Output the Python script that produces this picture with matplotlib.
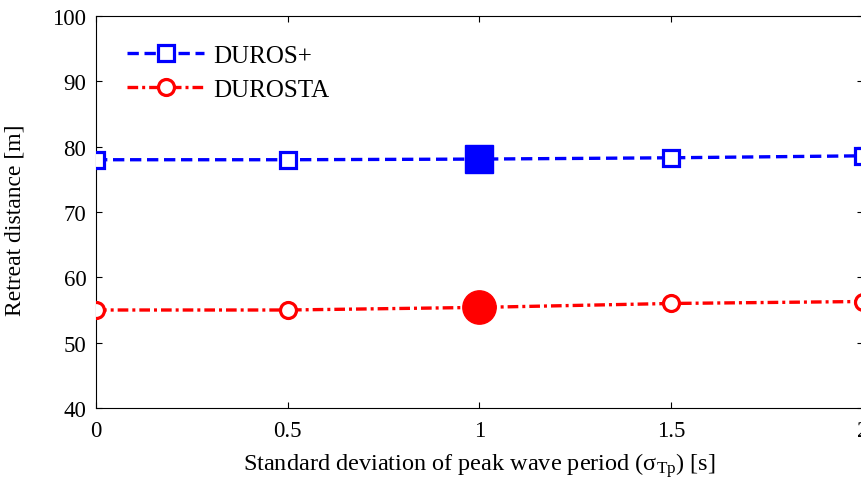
import matplotlib
matplotlib.use("Agg")
import matplotlib.pyplot as plt

plt.rcParams['font.family'] = ['Liberation Serif', 'DejaVu Serif']
plt.rcParams['mathtext.fontset'] = 'custom'
plt.rcParams['mathtext.rm'] = 'Liberation Serif'
plt.rcParams['mathtext.it'] = 'Liberation Serif:italic'

# Data
sigma_tp = [0.0, 0.5, 1.0, 1.5, 2.0]
duros_plus = [78.0, 78.0, 78.1, 78.3, 78.6]
durosta = [55.0, 55.0, 55.4, 56.0, 56.3]
highlight_idx = 2
x_ticks = [0, 0.5, 1, 1.5, 2]
x_tick_labels = ['0', '0.5', '1', '1.5', '2']
y_ticks = [40, 50, 60, 70, 80, 90, 100]

W, H = 862, 485
fig = plt.figure(figsize=(W / 100, H / 100), dpi=100)
left, right, top, bottom = 96, 863, 17, 409
ax = fig.add_axes([left / W, 1 - bottom / H, (right - left) / W, (bottom - top) / H])

lw = 2.4
ax.plot(sigma_tp, duros_plus, color='blue', linestyle=(0, (3.4, 1.7)), linewidth=lw,
        marker='s', markersize=11.5, markerfacecolor='white', markeredgecolor='blue',
        markeredgewidth=2.3, label='DUROS+', zorder=3)
ax.plot(sigma_tp, durosta, color='red', linestyle=(0, (3.2, 1.2, 0.9, 1.2)), linewidth=lw,
        marker='o', markersize=11.5, markerfacecolor='white', markeredgecolor='red',
        markeredgewidth=2.3, label='DUROSTA', zorder=3)

# Emphasised reference case
ax.plot(sigma_tp[highlight_idx], duros_plus[highlight_idx], linestyle='none', marker='s',
        markersize=20.5, color='blue', zorder=4)
ax.plot(sigma_tp[highlight_idx], durosta[highlight_idx], linestyle='none', marker='o',
        markersize=24, color='red', zorder=4)

ax.set_xlim(0, 2)
ax.set_ylim(40, 100)
ax.set_xticks(x_ticks)
ax.set_xticklabels(x_tick_labels)
ax.set_yticks(y_ticks)
ax.tick_params(direction='in', length=4, width=0.8, top=True, right=True,
               labelsize=16.5, colors='black')
ax.tick_params(axis='x', pad=9)
ax.tick_params(axis='y', pad=7)
for s in ax.spines.values():
    s.set_linewidth(0.8)

ax.set_xlabel(r'Standard deviation of peak wave period ($\mathregular{\sigma_{Tp}}$) [s]',
              fontsize=17.5, labelpad=6)
ax.set_ylabel('Retreat distance [m]', fontsize=17)
ax.yaxis.set_label_coords(-0.092, 0.482)

leg = ax.legend(loc='upper left', bbox_to_anchor=(0.011, 0.985), frameon=False, fontsize=18,
                handlelength=3.1, handletextpad=0.35, labelspacing=0.45)

fig.savefig('out.png', dpi=100)
